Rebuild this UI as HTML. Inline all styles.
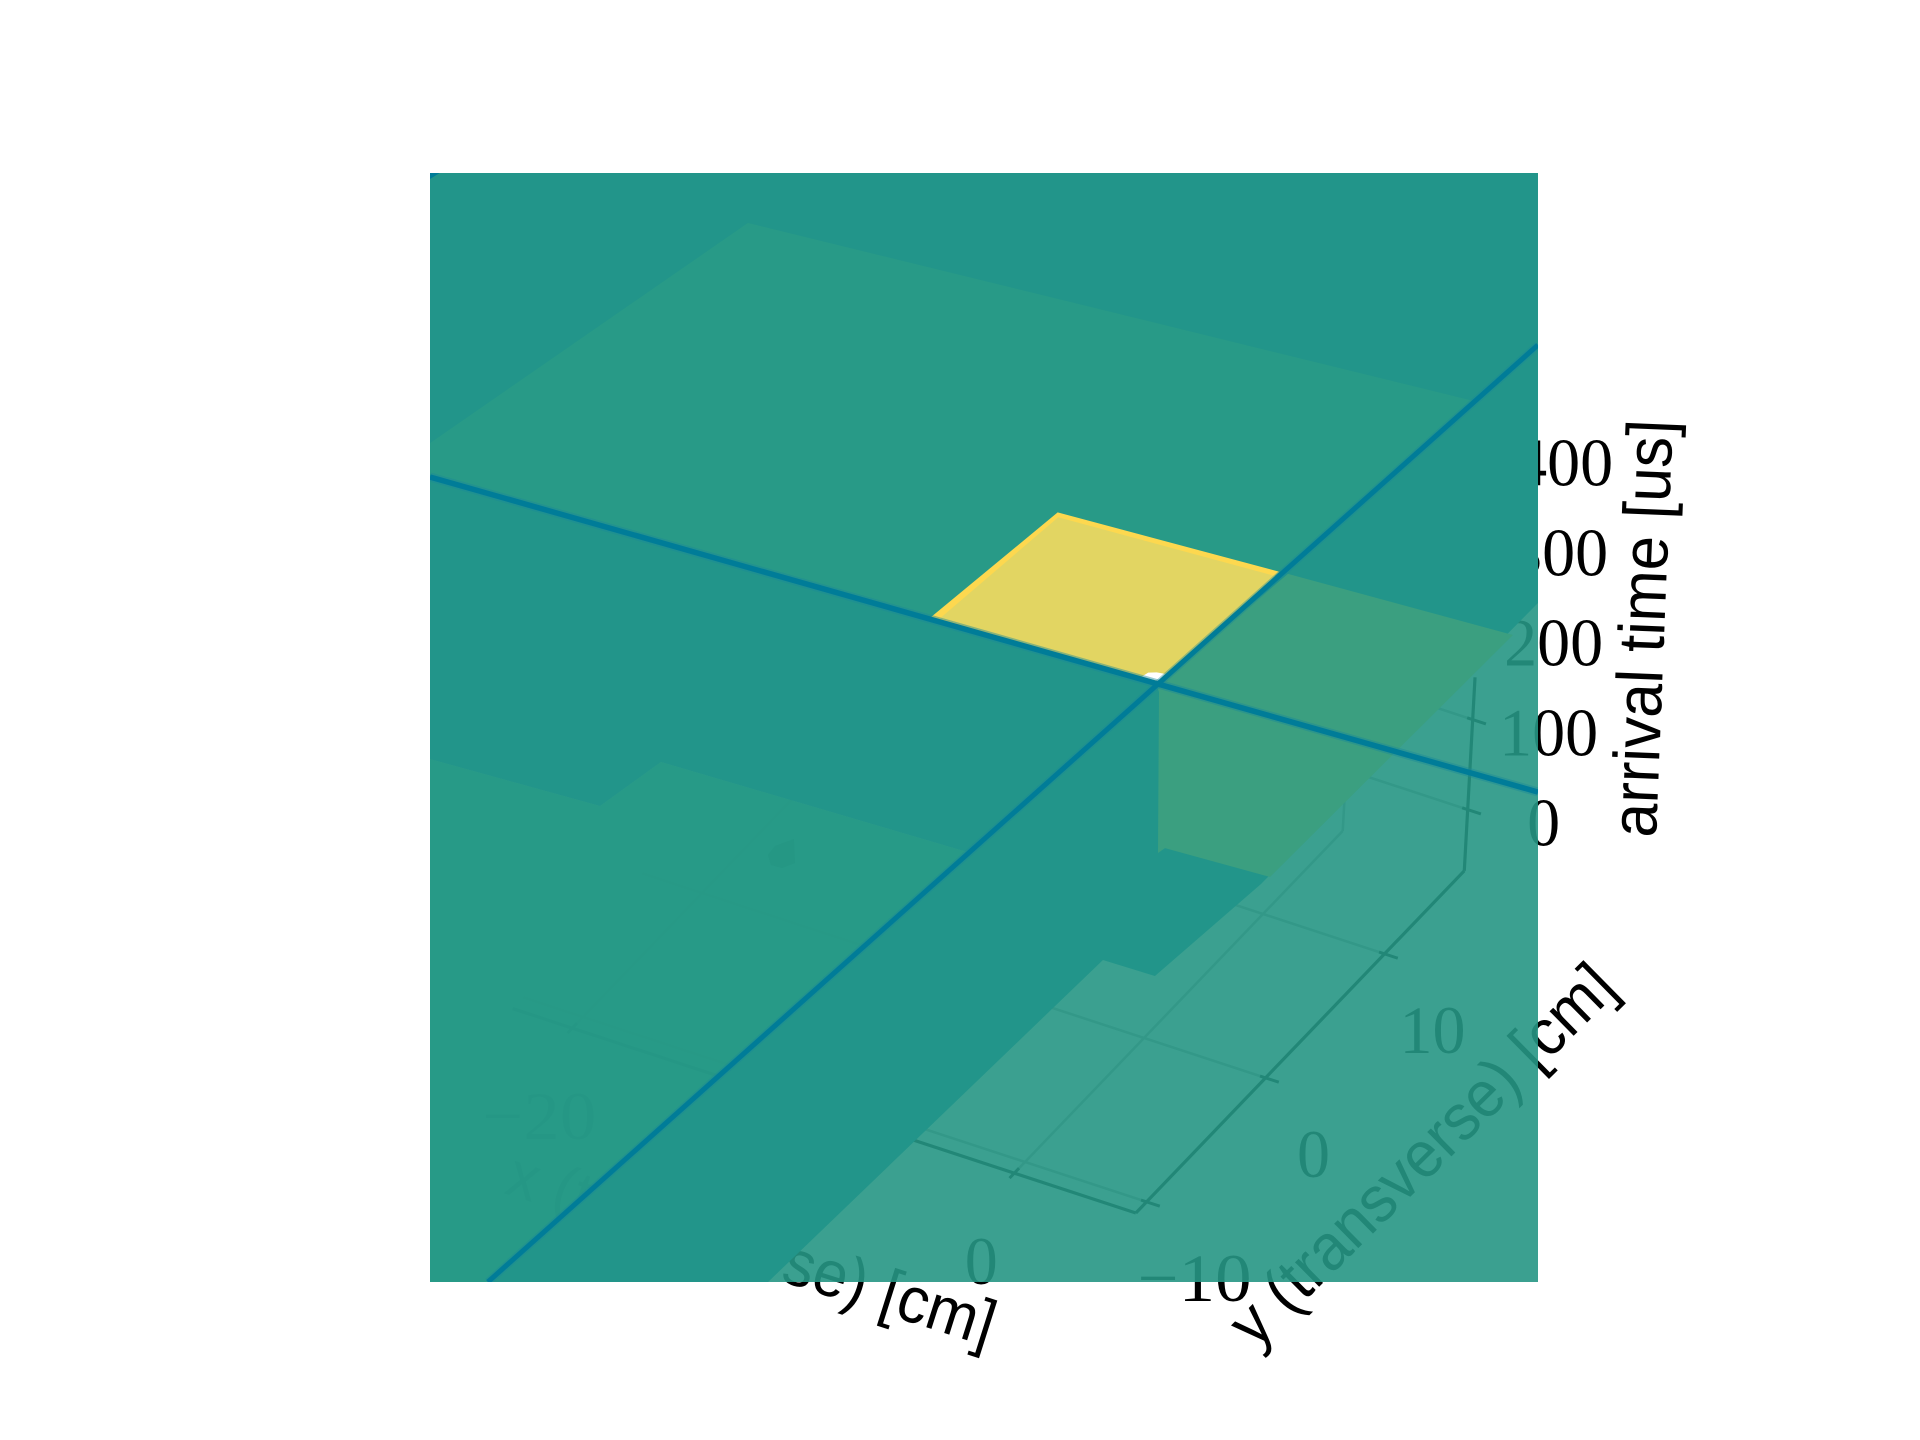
<!DOCTYPE html>
<html lang="en">
<head>
<meta charset="utf-8">
<title>Arrival time surface</title>
<style>
html,body{margin:0;padding:0;background:#fff;}
svg{display:block;}
.tick-label{font-family:"Liberation Serif",serif;font-size:68px;fill:#000;}
.axis-title{font-family:"Liberation Sans",sans-serif;font-size:65px;fill:#000;}
</style>
</head>
<body>
<svg id="chart" xmlns="http://www.w3.org/2000/svg" width="1920" height="1440" viewBox="0 0 1920 1440">
  <defs>
    <clipPath id="axes-clip"><rect x="430" y="173" width="1108" height="1109"/></clipPath>
  </defs>
  <rect x="0" y="0" width="1920" height="1440" fill="#ffffff"/>
  <g id="axes"></g>
  <g id="labels">
    <text class="axis-title" x="503" y="1193" transform="rotate(17.6 503 1193)" textLength="508" lengthAdjust="spacingAndGlyphs">x (transverse) [cm]</text>
    <text class="axis-title" x="1255" y="1350" transform="rotate(-44.6 1255 1350)" textLength="512" lengthAdjust="spacingAndGlyphs">y (transverse) [cm]</text>
    <text class="axis-title" x="1656" y="838" transform="rotate(-87.7 1656 838)" textLength="418" lengthAdjust="spacingAndGlyphs">arrival time [us]</text>
  </g>
  <g id="surfaces" clip-path="url(#axes-clip)">
    <rect x="430" y="173" width="1108" height="1109" fill="rgb(38,150,132)" fill-opacity="0.9"/>
  </g>
</svg>
<script>
// Axis ticks
const xTicks = [-20, 0];
const xTickLabels = ["\u221220", "0"];
const yTicks = [-10, 0, 10];
const yTickLabels = ["\u221210", "0", "10"];
const zTicks = [0, 100, 200, 300, 400];
const zTickLabels = ["0", "100", "200", "300", "400"];
// Axis limits
const xLimits = [-22.7, 5.5];
const yLimits = [-10.9, 16.7];
const zLimits = [-68, 147];

// Surface sheets: x [cm], y [cm], arrival time [us]
const darkSheetX = [-50.34, -12.21, 1.99, 1.74, 1.13, -1.19, -2.08, -11.72, -9.43, -22.94, -23.58, -30.99];
const darkSheetY = [33.07, 55.36, 28.99, 6.18, -1.60, -1.66, -28.15, -33.79, 2.23, 1.59, -2.34, -2.88];
const darkSheetTime = 32;

const leftSheetX = [-30.99, -23.58, -22.94, -9.43, -11.72, -13.71];
const leftSheetY = [-2.88, -2.34, 1.59, 2.23, -33.79, -34.96];
const leftSheetTime = 32;

const spotX = [-15.82, -14.99, -15.27, -15.75, -16.19, -16.24];
const spotY = [-0.46, -1.91, -2.48, -2.52, -1.96, -1.27];
const spotTime = 32;

const upperSheetX = [-35.82, -32.15, -1.28, -2.91, -34.63];
const upperSheetY = [5.27, 25.16, 28.85, 5.15, 3.06];
const upperSheetTime = 232;

const stepSheetX = [-5.71, -4.77, 4.99, 4.62, 0.05, -0.03, -5.31];
const stepSheetY = [10.77, 20.12, 20.90, 1.17, 0.83, 0.39, 10.28];
const stepSheetTime = 132;

const peakEdgeX = [-9.13, 0.46, -0.09, -10.03];
const peakEdgeY = [8.02, 8.84, -0.45, -0.97];
const peakInnerX = [-8.95, 0.45, -0.09, -9.68];
const peakInnerY = [7.73, 8.49, -0.45, -0.85];
const peakTime = 332;

const gapX = [-0.81, -0.72, -0.44, -0.10, -0.10];
const gapY = [-0.37, 0.01, 0.20, 0.27, -0.30];

// Ridge lines, endpoints in data units
const ridgeAX = [-31.90, 16.64];
const ridgeAY = [-2.44, 0.53];
const ridgeBX = [-3.32, 1.87];
const ridgeBY = [-50.65, 27.95];
const ridgeCX = [-41.92, -41.70];
const ridgeCY = [15.66, 16.59];
const ridgeTime = 332;

// Axis functions: data space to screen
const SVG_NS = 'http://www.w3.org/2000/svg';
function screenX(x, y, z) { return 1144 + 22.1 * x + 11.9 * y + 0.05 * (z - zLimits[0]); }
function screenY(x, y, z) { return 1038 + 7.25 * x - 12.4 * y - 0.9 * (z - zLimits[0]); }

const axesGroup = document.getElementById('axes');
const surfaceGroup = document.getElementById('surfaces');

function addLine(x1, y1, z1, x2, y2, z2, stroke, width) {
  const line = document.createElementNS(SVG_NS, 'line');
  line.setAttribute('x1', screenX(x1, y1, z1).toFixed(2));
  line.setAttribute('y1', screenY(x1, y1, z1).toFixed(2));
  line.setAttribute('x2', screenX(x2, y2, z2).toFixed(2));
  line.setAttribute('y2', screenY(x2, y2, z2).toFixed(2));
  line.setAttribute('stroke', stroke);
  line.setAttribute('stroke-width', width);
  axesGroup.appendChild(line);
  return line;
}
function addTickLabel(label, px, py) {
  const text = document.createElementNS(SVG_NS, 'text');
  text.setAttribute('class', 'tick-label');
  text.setAttribute('x', px.toFixed(2));
  text.setAttribute('y', py.toFixed(2));
  text.setAttribute('text-anchor', 'middle');
  const digits = label.replace('\u2212', '').length;
  const hasMinus = label.length > digits;
  text.setAttribute('textLength', 33 * digits + (hasMinus ? 48 : 0));
  text.setAttribute('lengthAdjust', 'spacingAndGlyphs');
  text.textContent = label;
  axesGroup.appendChild(text);
  return text;
}
function addSheet(xs, ys, z, fill, opacity) {
  const poly = document.createElementNS(SVG_NS, 'polygon');
  const pts = xs.map(function (x, i) {
    return screenX(x, ys[i], z).toFixed(2) + ',' + screenY(x, ys[i], z).toFixed(2);
  });
  poly.setAttribute('points', pts.join(' '));
  poly.setAttribute('fill', fill);
  poly.setAttribute('fill-opacity', opacity);
  surfaceGroup.appendChild(poly);
  return poly;
}
function addRidge(xs, ys, z, stroke, width, opacity) {
  const line = document.createElementNS(SVG_NS, 'line');
  line.setAttribute('x1', screenX(xs[0], ys[0], z).toFixed(2));
  line.setAttribute('y1', screenY(xs[0], ys[0], z).toFixed(2));
  line.setAttribute('x2', screenX(xs[1], ys[1], z).toFixed(2));
  line.setAttribute('y2', screenY(xs[1], ys[1], z).toFixed(2));
  line.setAttribute('stroke', stroke);
  line.setAttribute('stroke-width', width);
  line.setAttribute('stroke-opacity', opacity);
  surfaceGroup.appendChild(line);
  return line;
}

const xMin = xLimits[0], xMax = xLimits[1];
const yMin = yLimits[0], yMax = yLimits[1];
const zMin = zLimits[0], zMax = zLimits[1];
const GRID = '#b0b0b0';
let el;

// Grid lines
xTicks.forEach(function (t) {
  el = addLine(t, yMin, zMin, t, yMax, zMin, GRID, 2.6);
  
  
  el = addLine(t, yMax, zMin, t, yMax, zMax, GRID, 2.6);
  
  
});
yTicks.forEach(function (t) {
  el = addLine(xMin, t, zMin, xMax, t, zMin, GRID, 2.6);
  
  
});
zTicks.forEach(function (t) {
  if (t > zMax) { return; }
  el = addLine(xMin, yMax, t, xMax, yMax, t, GRID, 2.6);
  
  
});

// Axis lines
el = addLine(xMin, yMin, zMin, xMax, yMin, zMin, '#000', 3.2);


el = addLine(xMax, yMin, zMin, xMax, yMax, zMin, '#000', 3.2);


el = addLine(xMax, yMax, zMin, xMax, yMax, zMax, '#000', 3.2);



// Ticks and tick labels
xTicks.forEach(function (t, i) {
  el = addLine(t, yMin - 0.4, zMin, t, yMin + 0.4, zMin, '#000', 3);
  
  
  el = addTickLabel(xTickLabels[i], screenX(t, yMin, zMin) - 33, screenY(t, yMin, zMin) + 111);
  
  
});
yTicks.forEach(function (t, i) {
  el = addLine(xMax - 0.25, t, zMin, xMax + 0.6, t, zMin, '#000', 3);
  
  
  el = addTickLabel(yTickLabels[i], screenX(xMax, t, zMin) + 48, screenY(xMax, t, zMin) + 99);
  
  
});
zTicks.forEach(function (t, i) {
  if (t <= zMax) {
    el = addLine(xMax - 0.25, yMax, t, xMax + 0.6, yMax, t, '#000', 3);
    
    
  }
  el = addTickLabel(zTickLabels[i], screenX(xMax, yMax, t) + 76, screenY(xMax, yMax, t) + 36);
  
  
});

// Surface sheets
el = addSheet(darkSheetX, darkSheetY, darkSheetTime, '#22958a', 1);


el = addSheet(leftSheetX, leftSheetY, leftSheetTime, 'rgb(38,153,134)', 0.9);


el = addSheet(spotX, spotY, spotTime, 'rgb(32,140,122)', 0.2);


el = addSheet(upperSheetX, upperSheetY, upperSheetTime, '#289a87', 1);


el = addSheet(stepSheetX, stepSheetY, stepSheetTime, '#3b9f80', 1);


el = addSheet(peakEdgeX, peakEdgeY, peakTime, '#fdd84f', 1);


el = addSheet(peakInnerX, peakInnerY, peakTime, '#e2d562', 1);


el = addSheet(gapX, gapY, peakTime, '#ffffff', 1);



// Ridge lines with soft edges
el = addRidge(ridgeAX, ridgeAY, ridgeTime, '#1a8a98', 9, 0.45);


el = addRidge(ridgeBX, ridgeBY, ridgeTime, '#1a8a98', 8, 0.4);


el = addRidge(ridgeAX, ridgeAY, ridgeTime, '#007c98', 5.5, 1);


el = addRidge(ridgeBX, ridgeBY, ridgeTime, '#007c98', 5, 1);


el = addRidge(ridgeCX, ridgeCY, ridgeTime, '#007c98', 5, 1);


</script>
</body>
</html>
